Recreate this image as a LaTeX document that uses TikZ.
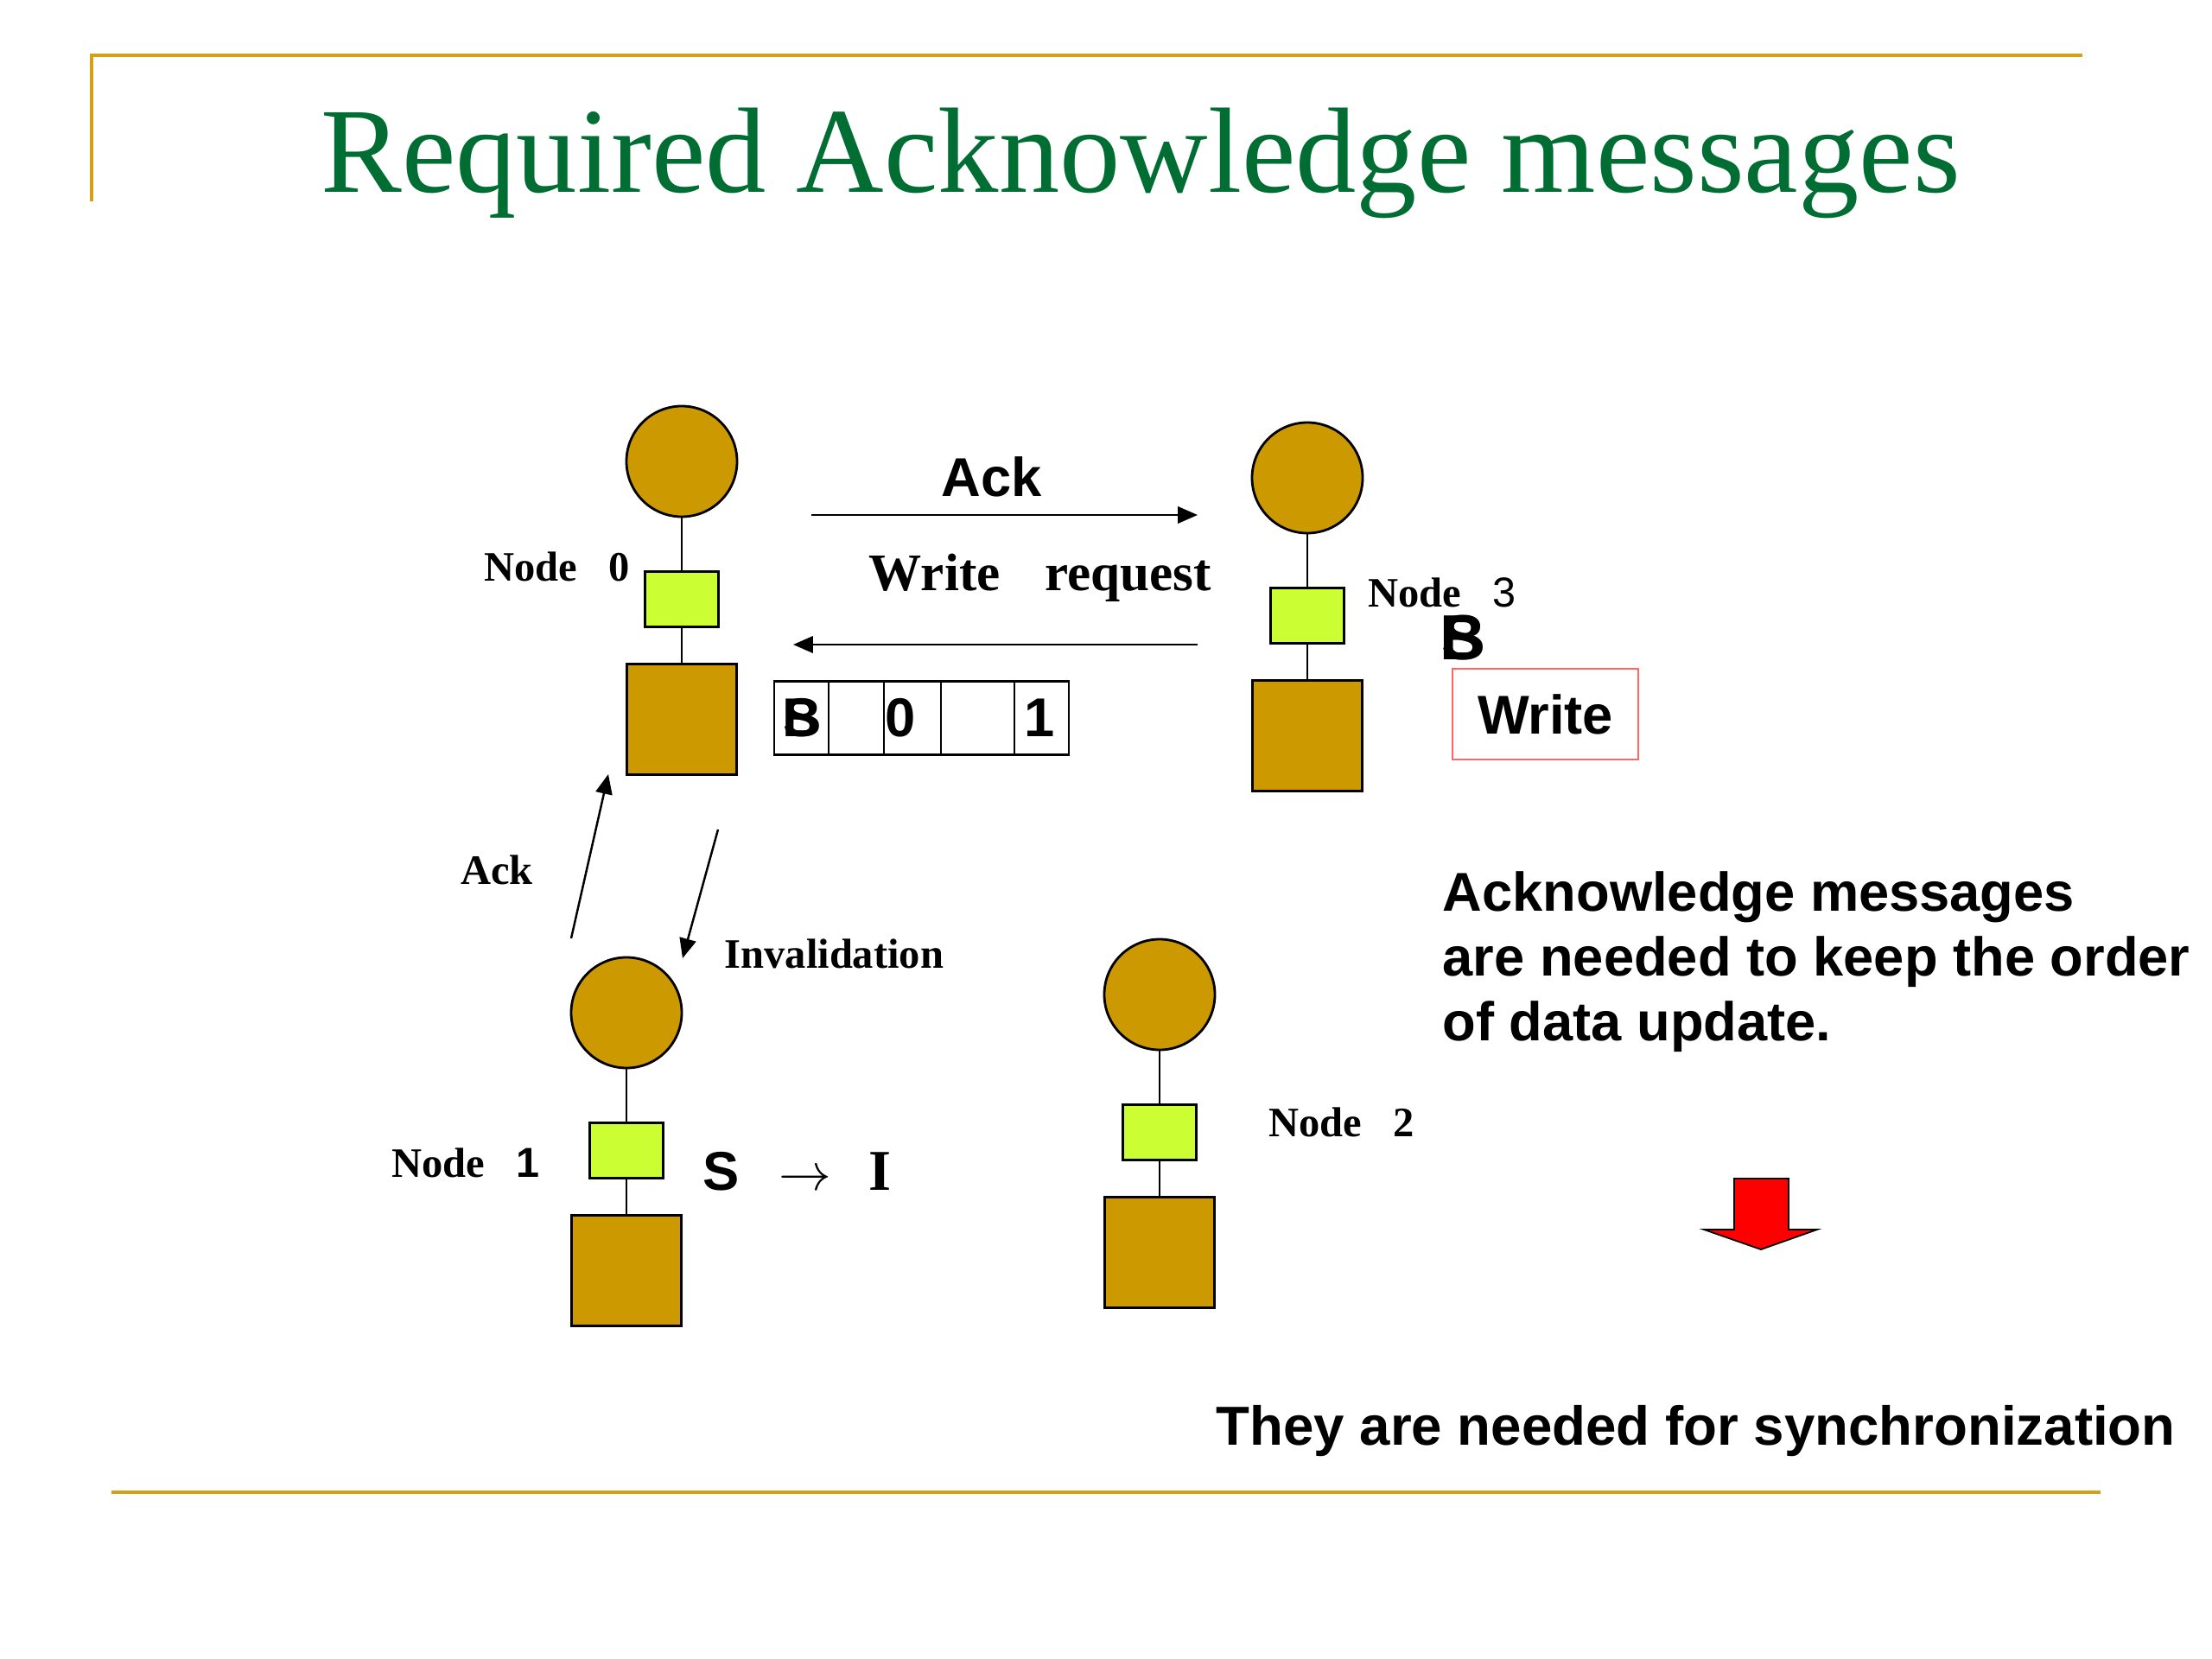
\documentclass[tikz,border=0pt]{standalone}
\usepackage{fontspec}
\setmainfont{Liberation Serif}
\setsansfont{Liberation Sans}
\usepackage{tikz}
\usetikzlibrary{positioning,arrows.meta}
\definecolor{titlegreen}{RGB}{0,110,50}
\definecolor{rulegold}{RGB}{212,160,23}
\definecolor{procgold}{RGB}{204,153,0}
\definecolor{cachegreen}{RGB}{204,255,51}
\definecolor{boxred}{RGB}{255,102,102}

\begin{document}
\begin{tikzpicture}[
  proc/.style={circle, draw, line width=0.8pt, fill=procgold, minimum size=1.28cm, inner sep=0pt},
  cache/.style={rectangle, draw, line width=0.8pt, fill=cachegreen, minimum width=0.85cm, minimum height=0.64cm, inner sep=0pt},
  mem/.style={rectangle, draw, line width=0.8pt, fill=procgold, minimum width=1.27cm, minimum height=1.28cm, inner sep=0pt},
  link/.style={line width=0.7pt},
  msg/.style={line width=0.7pt, -{Triangle[length=6.5pt,width=5.5pt]}},
  cell/.style={rectangle, draw, line width=0.8pt, minimum height=0.85cm, inner sep=0pt, outer sep=0pt},
  serlabel/.style={font=\fontsize{13.8pt}{16pt}\selectfont\bfseries, inner sep=0pt},
  sanslabel/.style={font=\fontsize{18pt}{21.3pt}\selectfont\sffamily\bfseries, inner sep=0pt},
]
\useasboundingbox (0,0) rectangle (25.6,-19.2);

% slide frame and title
\draw[rulegold, line width=1.4pt] (1.06 cm,-2.33 cm) -- (1.06 cm,-0.64 cm) -- (24.10 cm,-0.64 cm);
\draw[rulegold, line width=1.4pt] (1.29 cm,-17.27 cm) -- (24.31 cm,-17.27 cm);
\node[anchor=base, inner sep=0pt, text=titlegreen, font=\fontsize{40pt}{48pt}\selectfont] (title) at (13.20 cm,-2.23 cm) {Required Acknowledge messages};

% processor, cache, memory
\foreach \n/\x/\y in {0/7.89/-5.34, 3/15.13/-5.53, 1/7.25/-11.72, 2/13.42/-11.51} {
  \node[proc] (node\n_cpu) at (\x cm,\y cm) {};
  \node[cache, below=0.61cm of node\n_cpu] (node\n_cache) {};
  \node[mem, below=0.40cm of node\n_cache] (node\n_mem) {};
  \draw[link] (node\n_cpu) -- (node\n_cache) -- (node\n_mem);
}
\node[serlabel, anchor=base west] (node0_label) at (5.60 cm,-6.72 cm) {Node\hspace{0.75em}0};
\node[serlabel, anchor=base west] (node3_label) at (15.83 cm,-7.02 cm) {Node\hspace{0.75em}{\sffamily\mdseries 3}};
\node[serlabel, anchor=base west] (node1_label) at (4.53 cm,-13.62 cm) {Node\hspace{0.75em}{\sffamily 1}};
\node[serlabel, anchor=base west] (node2_label) at (14.68 cm,-13.15 cm) {Node\hspace{0.75em}2};

% messages between node 0 and node 3
\coordinate (ack_top_start) at (9.39 cm,-5.96 cm);
\coordinate (ack_top_end) at (13.86 cm,-5.96 cm);
\draw[msg] (ack_top_start) -- (ack_top_end);
\node[sanslabel, anchor=base] (ack_top) at (11.48 cm,-5.75 cm) {Ack};
\coordinate (req_start) at (13.86 cm,-7.46 cm);
\coordinate (req_end) at (9.18 cm,-7.46 cm);
\draw[msg] (req_start) -- (req_end);
\node[anchor=base, inner sep=0pt, font=\fontsize{17.4pt}{20pt}\selectfont\bfseries] (req_label) at (12.04 cm,-6.83 cm) {Write\hspace{0.85em}request};

% directory entry
\node[cell, minimum width=0.63cm] (buf_1) at (9.275 cm,-8.31 cm) {};
\node[cell, minimum width=0.64cm, right=0pt of buf_1] (buf_2) {};
\node[cell, minimum width=0.66cm, right=0pt of buf_2] (buf_3) {};
\node[cell, minimum width=0.85cm, right=0pt of buf_3] (buf_4) {};
\node[cell, minimum width=0.63cm, right=0pt of buf_4] (buf_5) {};
\node[sanslabel, anchor=base] (buf_b) at (9.28 cm,-8.52 cm) {B};
\node[sanslabel, anchor=base] (buf_s) at (9.28 cm,-8.52 cm) {S};
\node[sanslabel, anchor=base] (buf_zero) at (10.42 cm,-8.52 cm) {0};
\node[sanslabel, anchor=base] (buf_one) at (12.03 cm,-8.52 cm) {1};

% node 3 state and write
\node[sanslabel, anchor=base, font=\fontsize{21pt}{24pt}\selectfont\sffamily\bfseries] (state3_b) at (16.93 cm,-7.63 cm) {B};
\node[sanslabel, anchor=base, font=\fontsize{21pt}{24pt}\selectfont\sffamily\bfseries] (state3_s) at (16.93 cm,-7.63 cm) {S};
\node[sanslabel, draw=boxred, line width=0.8pt, minimum width=2.15cm, minimum height=1.05cm] (write_box) at (17.885 cm,-8.265 cm) {Write};

% invalidation and ack with node 1
\coordinate (ack_left_start) at (6.61 cm,-10.86 cm);
\coordinate (ack_left_end) at (7.04 cm,-8.96 cm);
\draw[msg] (ack_left_start) -- (ack_left_end);
\node[serlabel, anchor=base] (ack_left) at (5.75 cm,-10.23 cm) {Ack};
\coordinate (inv_start) at (8.31 cm,-9.60 cm);
\coordinate (inv_end) at (7.90 cm,-11.09 cm);
\draw[msg] (inv_start) -- (inv_end);
\node[serlabel, anchor=base west] (inv_label) at (8.38 cm,-11.20 cm) {Invalidation};

\node[sanslabel, anchor=base] (state_s) at (8.35 cm,-13.77 cm) {S};
\node[anchor=base, inner sep=0pt, font=\fontsize{17pt}{20pt}\selectfont] (state_arrow) at (9.32 cm,-13.77 cm) {$\rightarrow$};
\node[anchor=base, inner sep=0pt, font=\fontsize{19pt}{22pt}\selectfont\bfseries] (state_i) at (10.18 cm,-13.77 cm) {I};

% explanation
\node[sanslabel, anchor=base west, align=left] (note_text) at (16.69 cm,-12.04 cm) {Acknowledge messages\\are needed to keep the order\\of data update.};
\draw[fill=red, line width=0.5pt] (20.07 cm,-13.64 cm) -- (20.70 cm,-13.64 cm) -- (20.70 cm,-14.23 cm) -- (21.03 cm,-14.23 cm) -- (20.38 cm,-14.46 cm) -- (19.72 cm,-14.23 cm) -- (20.07 cm,-14.23 cm) -- cycle;
\node[sanslabel, anchor=base west, font=\fontsize{18.1pt}{21.3pt}\selectfont\sffamily\bfseries] (sync_text) at (14.07 cm,-16.72 cm) {They are needed for synchronization};
\end{tikzpicture}
\end{document}
